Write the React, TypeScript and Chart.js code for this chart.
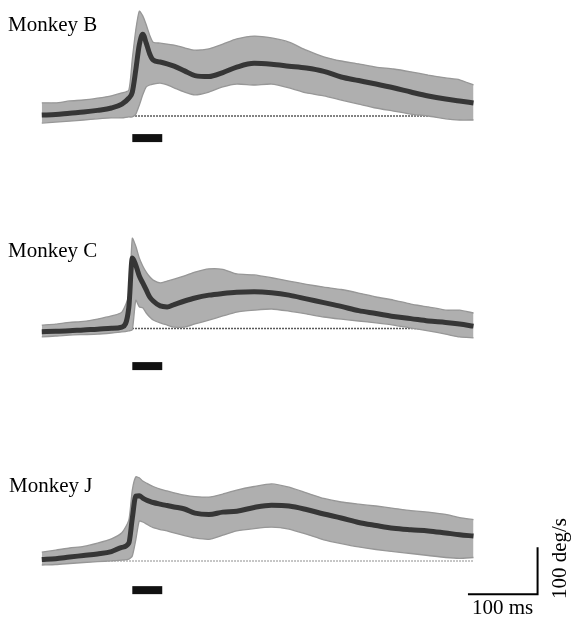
import React, { useEffect, useRef } from 'react';
import { Chart, registerables } from 'chart.js';

Chart.register(...registerables);

// time (ms, relative to stimulus onset)
const TIME_MS = [-130, -110, -90, -70, -50, -30, -15, -5, 0, 5, 10, 15, 20, 25, 30, 40, 50, 60, 75, 90, 110, 130, 150, 175, 200, 225, 250, 275, 300, 325, 350, 375, 400, 425, 450, 470, 490];

// Monkey B (deg/s)
const B_MEAN = [2, 3, 6, 8.5, 12, 17, 25.5, 38, 51, 98, 151, 174, 155, 132, 119, 115, 111, 106, 96, 86, 84, 92.5, 104, 112, 110, 106, 102, 95, 83, 75.5, 68, 60, 51, 42.5, 36, 32, 27.7];
const B_UPPER = [28, 28, 32, 34, 38, 43, 49, 55, 121, 183, 223, 213, 194, 172, 157, 155, 153, 151, 145, 140, 143, 153, 164, 170, 166, 157, 140, 126, 117, 111, 104, 100, 94, 87, 81, 77, 66];
const B_LOWER = [-15, -13, -11, -8.5, -6, -4, -4, -2, -2, 4, 23, 45, 62, 66, 68, 70, 66, 60, 51, 45, 51, 62, 68, 66, 68, 60, 49, 43, 34, 25.5, 17, 10.6, 4, 0, -6, -8.5, -8.5];

// Monkey C (deg/s)
const C_MEAN = [-6.8, -6, -5, -3, -1.7, 0.4, 3, 45, 150, 135, 112, 97, 82, 67, 58.5, 48, 46, 51, 58.5, 65, 71, 74.5, 77, 78, 76, 71, 63, 55, 47, 38, 32, 25.5, 21, 16, 13, 9.6, 5];
const C_UPPER = [7, 9.5, 13, 15, 20, 26.6, 35, 71, 192, 175, 150, 133, 120, 110, 103, 97, 101, 105, 112, 120, 127, 126, 116, 114, 108, 101, 94, 88, 83, 75.5, 67, 60.6, 52, 46, 39, 39, 33];
const C_LOWER = [-18, -16, -14, -13, -12, -9.6, -7.4, -5, -3, 60, 46, 44, 33, 24.5, 18, 12, 7.4, 3, 3, 9.6, 18, 26.6, 35, 39, 41.5, 37, 31, 24.5, 20, 16, 12, 7.4, 1, -5, -12, -18, -20];

// Monkey J (deg/s)
const J_MEAN = [3, 5, 8.5, 11.7, 15, 20, 29, 38, 91, 138, 139, 134, 130, 127, 124.5, 121, 118, 115, 110.6, 102, 99, 104, 106, 114, 118.5, 117, 109.6, 100, 91.5, 82, 75.5, 69.6, 66.4, 64, 59.6, 56, 53];
const J_UPPER = [19, 23, 27.7, 31, 38, 47, 60, 87, 151, 179, 177, 170, 166, 162, 158.5, 153, 149, 145, 140, 137, 136, 142.5, 151, 158.5, 164, 157, 145, 133, 125.5, 121, 117, 112, 107, 104, 99, 92.5, 88];
const J_LOWER = [-8.5, -7.4, -5.3, -3.2, -1.5, 0.4, 2, 4, 10.6, 45, 85, 83, 79, 74.5, 71, 67, 64, 59.6, 54, 49, 46, 55, 64, 69, 72, 68, 57, 45, 37, 30, 24.5, 20, 16, 11.7, 7.4, 5.7, 7.4];

// stimulus bar (ms) and baseline extent (ms)
const STIM_MS = [0, 43];
const BASELINE_MS = [-125, 490];
// scale bar: 100 ms and 100 deg/s
const SCALE_T = [482, 582];
const SCALE_V = [-71, 29];

const X_MIN = -190;
const X_MAX = 630;
const PX_PER_DEG = 0.47;
const W = 571;
const H = 200;
const SERIF = '"Liberation Serif", "Times New Roman", Times, serif';

type Panel = {
  name: string;
  top: number;
  baselinePx: number;
  mean: number[];
  upper: number[];
  lower: number[];
  stimLevel: number;
  dotColor: string;
  labelTop: number;
  labelLeft: number;
  scaleBar: boolean;
};

const PANELS: Panel[] = [
  { name: 'Monkey B', top: 0, baselinePx: 116, mean: B_MEAN, upper: B_UPPER, lower: B_LOWER, stimLevel: -47, dotColor: '#222', labelTop: 14, labelLeft: 8, scaleBar: false },
  { name: 'Monkey C', top: 210, baselinePx: 328.5, mean: C_MEAN, upper: C_UPPER, lower: C_LOWER, stimLevel: -80, dotColor: '#222', labelTop: 240, labelLeft: 8, scaleBar: false },
  { name: 'Monkey J', top: 420, baselinePx: 561, mean: J_MEAN, upper: J_UPPER, lower: J_LOWER, stimLevel: -62, dotColor: '#9a9a9a', labelTop: 475, labelLeft: 9, scaleBar: true },
];

function PanelChart({ panel }: { panel: Panel }) {
  const ref = useRef<HTMLCanvasElement>(null);
  useEffect(() => {
    if (!ref.current) return;
    const yMax = (panel.baselinePx - panel.top) / PX_PER_DEG;
    const yMin = yMax - H / PX_PER_DEG;
    const pts = (arr: number[]) => TIME_MS.map((t, i) => ({ x: t, y: arr[i] }));
    const datasets: any[] = [
      {
        label: 'mean',
        data: pts(panel.mean),
        borderColor: '#363636',
        borderWidth: 5,
        pointRadius: 0,
        cubicInterpolationMode: 'monotone',
        fill: false,
        order: 0,
      },
      {
        label: 'stimulus',
        data: STIM_MS.map((t) => ({ x: t, y: panel.stimLevel })),
        borderColor: '#111',
        borderWidth: 8,
        borderCapStyle: 'butt',
        pointRadius: 0,
        fill: false,
        order: 1,
      },
      {
        label: 'upper',
        data: pts(panel.upper),
        borderColor: '#979797',
        borderWidth: 1.3,
        backgroundColor: '#afafaf',
        fill: '+1',
        pointRadius: 0,
        tension: 0.2,
        order: 3,
      },
      {
        label: 'lower',
        data: pts(panel.lower),
        borderColor: '#979797',
        borderWidth: 1.3,
        fill: false,
        pointRadius: 0,
        tension: 0.2,
        order: 2,
      },
      {
        label: 'baseline',
        data: BASELINE_MS.map((t) => ({ x: t, y: 0 })),
        borderColor: panel.dotColor,
        borderWidth: 1.3,
        borderDash: [1.5, 1.5],
        pointRadius: 0,
        fill: false,
        order: 4,
      },
    ];
    if (panel.scaleBar) {
      datasets.push({
        label: 'scale',
        data: [
          { x: SCALE_T[0], y: SCALE_V[0] },
          { x: SCALE_T[1], y: SCALE_V[0] },
          { x: SCALE_T[1], y: SCALE_V[1] },
        ],
        borderColor: '#000',
        borderWidth: 2,
        pointRadius: 0,
        fill: false,
        borderJoinStyle: 'miter',
        order: 0,
      });
    }
    const chart = new Chart(ref.current, {
      type: 'line',
      data: { datasets },
      options: {
        responsive: false,
        animation: false,
        events: [],
        layout: { padding: 0 },
        plugins: { legend: { display: false }, tooltip: { enabled: false } },
        scales: {
          x: { type: 'linear', min: X_MIN, max: X_MAX, display: false },
          y: { type: 'linear', min: yMin, max: yMax, display: false },
        },
      },
    });
    return () => chart.destroy();
  }, [panel]);
  return (
    <canvas
      ref={ref}
      width={W}
      height={H}
      style={{ position: 'absolute', left: 0, top: panel.top, width: W, height: H }}
    />
  );
}

export default function App() {
  return (
    <div style={{ position: 'absolute', left: 0, top: 0, width: W, height: 622, background: '#fff', fontFamily: SERIF }}>
      {PANELS.map((p) => (
        <PanelChart key={p.name} panel={p} />
      ))}
      {PANELS.map((p) => (
        <div
          key={p.name + '-label'}
          style={{ position: 'absolute', left: p.labelLeft, top: p.labelTop, fontSize: 21, lineHeight: '21px', whiteSpace: 'nowrap', color: '#000' }}
        >
          {p.name}
        </div>
      ))}
      <div style={{ position: 'absolute', left: 472, top: 597, fontSize: 21, lineHeight: '21px', whiteSpace: 'nowrap', color: '#000' }}>
        100 ms
      </div>
      <div
        style={{
          position: 'absolute',
          left: 559 - 50,
          top: 558 - 10.5,
          width: 100,
          height: 21,
          fontSize: 21,
          lineHeight: '21px',
          textAlign: 'center',
          whiteSpace: 'nowrap',
          color: '#000',
          transform: 'rotate(-90deg)',
        }}
      >
        100 deg/s
      </div>
    </div>
  );
}
